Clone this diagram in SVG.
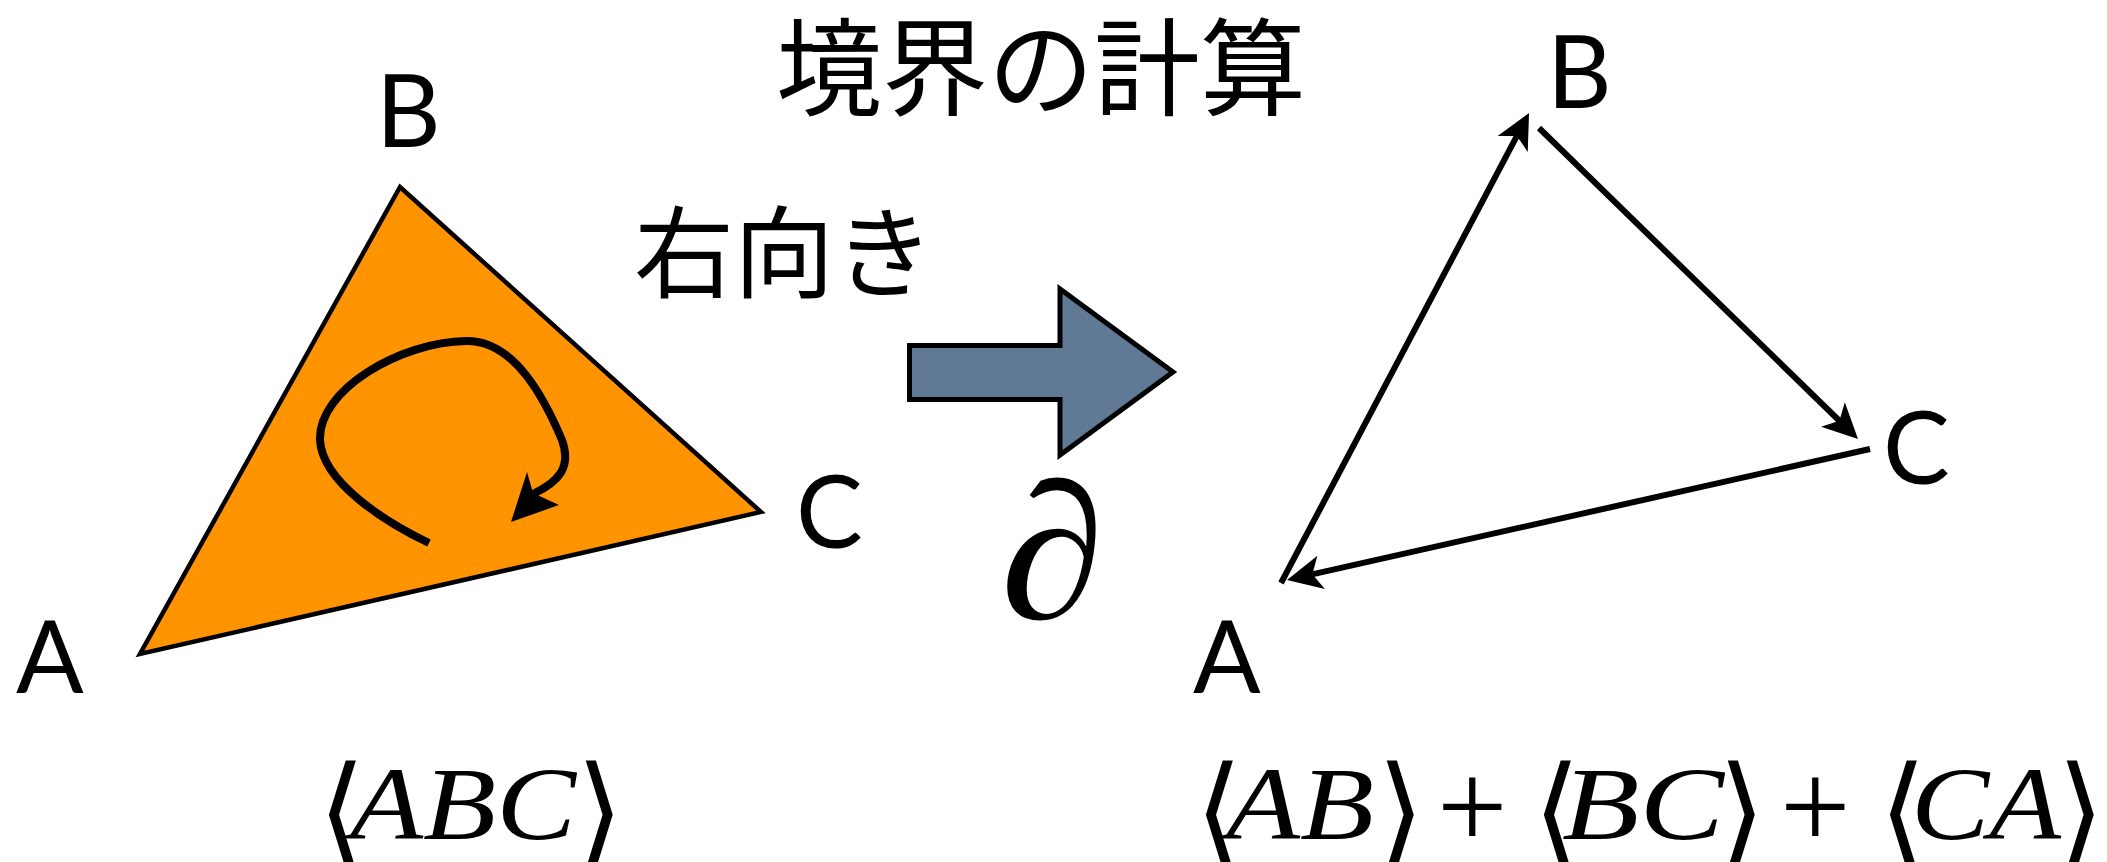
<svg xmlns="http://www.w3.org/2000/svg" width="2107" height="862" viewBox="0 0 2107 862">
<style>
.lbl{font-family:Lato,"Noto Sans",sans-serif;font-size:100px;fill:#000}
.jp{font-family:"Noto Sans CJK JP","Noto Sans",sans-serif;fill:#000}
.mi{font-family:"Liberation Serif",serif;font-style:italic;font-size:104px;fill:#000}
.br{font-family:"DejaVu Sans","DejaVu Serif",serif;font-size:122px;fill:#000}
.pl{font-family:"Liberation Serif",serif;font-size:125px;fill:#000}
.edge{fill:none;stroke:#000;stroke-width:6;marker-end:url(#head)}
</style>
<defs>
<marker id="head" markerUnits="userSpaceOnUse" markerWidth="50" markerHeight="40" viewBox="-25 -20 50 40" refX="0" refY="0" orient="auto" overflow="visible">
<path d="M20,0 L-15,-17 L-6,0 L-15,17 Z" fill="#000"/>
</marker>
</defs>

<g id="title">
<text class="jp" x="776" y="107" font-size="106">境界の計算</text>
</g>

<g id="left-triangle">
<polygon points="400,187 761,512 140,654" fill="#FF9300" stroke="#000" stroke-width="4.5" stroke-linejoin="miter"/>
<path d="M429,543 C385,522 322,482 320,440 C318,390 400,342 466,341 C515,340 545,400 562,440 C572,468 558,482 533,494" fill="none" stroke="#000" stroke-width="8"/>
<polygon points="511,522 527,472 533,493 559,505" fill="#000"/>
</g>

<g id="left-labels">
<text class="lbl" x="376" y="147">B</text>
<text class="lbl" x="796" y="548">C</text>
<text class="lbl" x="16" y="693">A</text>
</g>

<g id="direction-label">
<text class="jp" x="634" y="290" font-size="100">右向き</text>
</g>

<g id="boundary-arrow">
<path d="M909.5,345.5 H1060 V289 L1173,372 L1060,455 V399.5 H909.5 Z" fill="#607995" stroke="#000" stroke-width="5" stroke-linejoin="miter"/>
<text x="1000" y="618" font-family="Liberation Serif,serif" font-style="italic" font-size="195" fill="#000" textLength="104" lengthAdjust="spacingAndGlyphs">∂</text>
</g>

<g id="connectors">
<line class="edge" x1="1281" y1="583" x2="1519.7" y2="130.7"/>
<line class="edge" x1="1539" y1="128" x2="1843.7" y2="425"/>
<line class="edge" x1="1870" y1="449" x2="1306.5" y2="575.6"/>
</g>

<g id="right-labels">
<text class="lbl" x="1547" y="108">B</text>
<text class="lbl" x="1883" y="484">C</text>
<text class="lbl" x="1193" y="693">A</text>
</g>

<g id="formula-left">
<text class="br" x="318" y="853">⟨</text>
<text class="mi" x="350" y="839" textLength="226" lengthAdjust="spacingAndGlyphs">ABC</text>
<text class="br" x="576" y="853">⟩</text>
</g>

<g id="formula-right">
<text class="br" x="1195" y="853">⟨</text>
<text class="mi" x="1226" y="839" textLength="148" lengthAdjust="spacingAndGlyphs">AB</text>
<text class="br" x="1377" y="853">⟩</text>
<text class="pl" x="1437" y="848">+</text>
<text class="br" x="1533" y="853">⟨</text>
<text class="mi" x="1562" y="839" textLength="162" lengthAdjust="spacingAndGlyphs">BC</text>
<text class="br" x="1718" y="853">⟩</text>
<text class="pl" x="1780" y="848">+</text>
<text class="br" x="1879" y="853">⟨</text>
<text class="mi" x="1911" y="839" textLength="150" lengthAdjust="spacingAndGlyphs">CA</text>
<text class="br" x="2057" y="853">⟩</text>
</g>
</svg>
